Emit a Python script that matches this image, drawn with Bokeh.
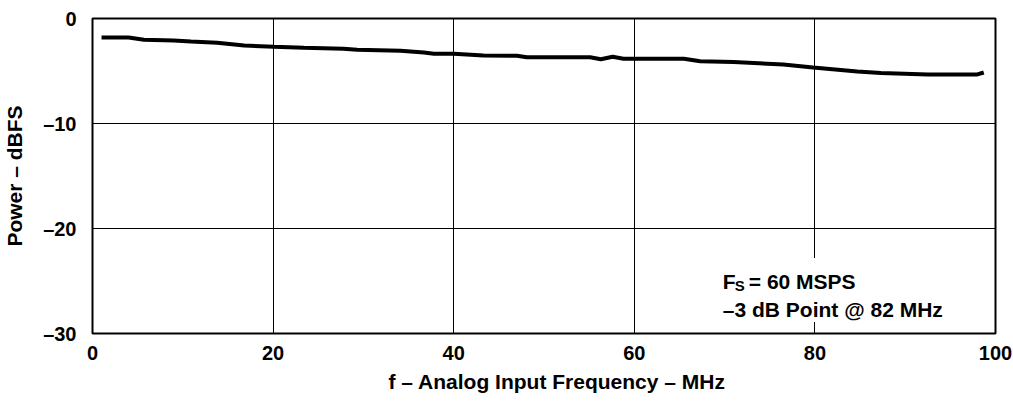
from bokeh.plotting import figure
from bokeh.models import FixedTicker, Range1d, Label, BoxAnnotation, Title
from bokeh.embed import file_html
from bokeh.resources import INLINE

freq_mhz = [1.0, 4.0, 5.7, 9.0, 10.9, 13.8, 16.8, 20.1, 23.4, 27.8, 29.3, 34.1,
            36.7, 37.8, 40.0, 43.3, 47.0, 48.1, 55.1, 56.3, 57.6, 58.8, 65.5,
            67.3, 71.0, 76.5, 79.8, 84.7, 87.3, 92.5, 98.0, 98.7]
power_dbfs = [-1.81, -1.81, -2.03, -2.10, -2.19, -2.31, -2.57, -2.70, -2.79, -2.89,
              -2.98, -3.08, -3.24, -3.36, -3.36, -3.52, -3.55, -3.69, -3.69, -3.88,
              -3.65, -3.84, -3.84, -4.07, -4.14, -4.38, -4.67, -5.05, -5.19, -5.33,
              -5.33, -5.14]

x_ticks = [0, 20, 40, 60, 80, 100]
y_ticks = [0, -10, -20, -30]
y_tick_labels = {0: "0", -10: "\u201310", -20: "\u201320", -30: "\u201330"}

x_title = "f \u2013 Analog Input Frequency \u2013 MHz"
y_title = "Power \u2013 dBFS"
note_line1_main = "F"
note_line1_sub = "S"
note_line1_rest = "= 60 MSPS"
note_line2 = "\u20133 dB Point @ 82 MHz"
note_x = 69.8
note_y1 = -25.0
note_y2 = -27.7
note_box = dict(left=68.7, right=95.5, top=-22.8, bottom=-28.9)

FONT = "Liberation Sans"

p = figure(width=1013, height=403, output_backend="svg", toolbar_location=None,
           x_range=Range1d(0, 100), y_range=Range1d(-30, 0),
           min_border_left=92, min_border_right=18, min_border_top=18,
           min_border_bottom=70)

p.line(freq_mhz, power_dbfs, line_color="black", line_width=4)

p.outline_line_color = "black"
p.outline_line_width = 2
p.background_fill_color = "white"
p.border_fill_color = "white"

p.xaxis.ticker = FixedTicker(ticks=x_ticks)
p.yaxis.ticker = FixedTicker(ticks=y_ticks)
p.yaxis.major_label_overrides = y_tick_labels

for ax in (p.xaxis, p.yaxis):
    ax.axis_line_color = None
    ax.major_tick_line_color = None
    ax.minor_tick_line_color = None
    ax.major_label_text_font = FONT
    ax.major_label_text_font_style = "bold"
    ax.major_label_text_font_size = "20px"
    ax.major_label_text_color = "black"
    ax.axis_label_text_font = FONT
    ax.axis_label_text_font_style = "bold"
    ax.axis_label_text_font_size = "21px"
    ax.axis_label_text_color = "black"

p.xaxis.major_label_standoff = 6
p.yaxis.major_label_standoff = 10
p.yaxis.axis_label = y_title
p.yaxis.axis_label_standoff = 14

p.add_layout(Title(text=x_title, align="left", offset=296, standoff=11,
                   text_font=FONT, text_font_style="bold", text_font_size="21px",
                   text_color="black"), "below")

p.xgrid.grid_line_color = "black"
p.ygrid.grid_line_color = "black"
p.xgrid.grid_line_width = 1
p.ygrid.grid_line_width = 1

p.add_layout(BoxAnnotation(fill_color="white", fill_alpha=1.0, line_color=None,
                           **note_box))

common = dict(text_font=FONT, text_font_style="bold", text_color="black",
              text_baseline="alphabetic")
p.add_layout(Label(x=note_x, y=note_y1, text=note_line1_main,
                   text_font_size="21px", **common))
p.add_layout(Label(x=note_x, y=note_y1, text=note_line1_sub, x_offset=12,
                   y_offset=-4, text_font_size="15px", **common))
p.add_layout(Label(x=note_x, y=note_y1, text=note_line1_rest, x_offset=26,
                   text_font_size="21px", **common))
p.add_layout(Label(x=note_x, y=note_y2, text=note_line2,
                   text_font_size="21px", **common))

open("out.html", "w").write(file_html(p, INLINE))
